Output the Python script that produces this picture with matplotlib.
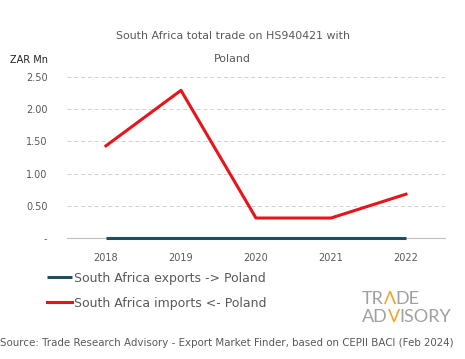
import matplotlib.pyplot as plt

years = ["2018", "2019", "2020", "2021", "2022"]
exports = [0.0, 0.0, 0.0, 0.0, 0.0]
imports = [1.43, 2.29, 0.31, 0.31, 0.68]
yticks = [0, 0.5, 1.0, 1.5, 2.0, 2.5]
ytick_labels = ["-", "0.50", "1.00", "1.50", "2.00", "2.50"]

plt.rcParams['font.family'] = ['DejaVu Sans']
grey = "#595959"

fig = plt.figure(figsize=(4.65, 3.59), dpi=100)
ax = fig.add_axes([0.144, 0.337, 0.813, 0.449])

x = range(len(years))
ax.plot(x, exports, color="#1f4e5f", lw=2.2, label="South Africa exports -> Poland",
        solid_capstyle="butt", zorder=3, clip_on=False)
ax.plot(x, imports, color="#e8141b", lw=2.2, label="South Africa imports <- Poland",
        zorder=3)

ax.set_xlim(-0.52, 4.52)
ax.set_ylim(0, 2.5)
ax.set_xticks(list(x))
ax.set_xticklabels(years)
ax.set_yticks(yticks)
ax.set_yticklabels(ytick_labels)
ax.tick_params(length=0, labelsize=7, colors=grey, pad=11)
ax.tick_params(axis="y", pad=14)
for yv in yticks[1:]:
    ax.axhline(yv, color="#d0d0d0", lw=0.7, ls=(0, (4, 3)), zorder=1)
for s in ["top", "right", "left"]:
    ax.spines[s].set_visible(False)
ax.spines["bottom"].set_color("#bfbfbf")
ax.spines["bottom"].set_linewidth(0.8)

fig.text(0.5, 0.90, "South Africa total trade on HS940421 with", ha="center",
         va="center", fontsize=7.9, color=grey)
fig.text(0.5, 0.836, "Poland", ha="center", va="center", fontsize=7.9, color=grey)
fig.text(0.022, 0.832, "ZAR Mn", ha="left", va="center", fontsize=7, color="#222222")

handles, labels = ax.get_legend_handles_labels()
fig.legend(handles, labels, loc="upper left", bbox_to_anchor=(0.09, 0.257),
           frameon=False, fontsize=9, labelcolor=grey, handlelength=2.0,
           handletextpad=0.15, labelspacing=0.95, borderaxespad=0)

# logo: grey letters, orange V
logo_grey = "#a0a0a0"
logo_orange = "#f0a422"
renderer = fig.canvas.get_renderer()
def logo_row(parts, x0, y0):
    xp = x0
    for txt, col in parts:
        t = fig.text(xp, y0, txt, ha="left", va="bottom", fontsize=13,
                     color=col, family=['Lato'])
        bb = t.get_window_extent(renderer)
        xp += bb.width / (fig.get_figwidth() * fig.dpi)

logo_row([("TR", logo_grey), ("Λ", logo_orange), ("DE", logo_grey)], 0.778, 0.145)
logo_row([("AD", logo_grey), ("V", logo_orange), ("ISORY", logo_grey)], 0.778, 0.094)

fig.text(0.0, 0.045, "Source: Trade Research Advisory - Export Market Finder, based on CEPII BACI (Feb 2024)",
         ha="left", va="center", fontsize=7.35, color=grey)

fig.savefig("out.png", dpi=100)
